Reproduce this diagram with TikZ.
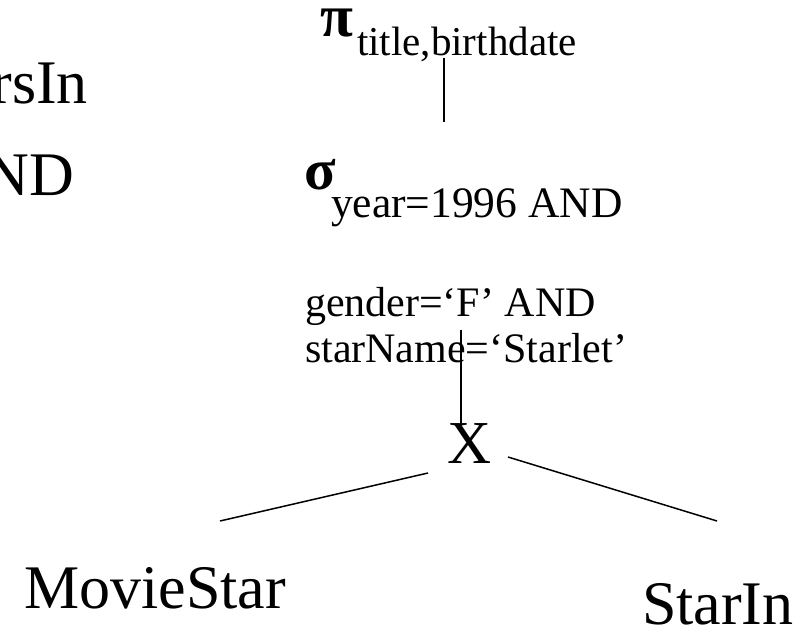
\documentclass[tikz,border=0pt]{standalone}
\usepackage{fontspec}
\setmainfont{Liberation Serif}
\newcommand\myfs[1]{\fontsize{#1}{#1}\selectfont}
\begin{document}
\begin{tikzpicture}[x=1pt,y=-1pt,
  every node/.style={inner sep=0pt, outer sep=0pt},
  lbl/.style={anchor=base west},
  lblr/.style={anchor=base east},
  greek/.style={anchor=base west, font=\bfseries},
  conn/.style={line width=1.5pt}]
\useasboundingbox (0,0) rectangle (800,626);
\clip (0,0) rectangle (800,626);
% cut-off text at left edge
\node[lblr] (lefta) at (88,103) {\myfs{62}rsIn};
\node[lblr] (leftb) at (74,195) {\myfs{62}ND};
% projection
\node[greek] (pi) at (320,37) {\myfs{60}π};
\node[lbl] (pisub) at (357,56) {\myfs{41}title,birthdate};
% selection
\node[greek] (sigma) at (304,189) {\myfs{58}σ};
\node[lbl] (sigsub) at (331,217) {\myfs{43.5}year=1996 AND};
\node[lbl] (cond1) at (305,316) {\myfs{42}gender=‘F’ AND};
\node[lbl] (cond2) at (305,362) {\myfs{42}starName=‘Starlet’};
% product
\node[anchor=base] (cross) at (470,463) {\myfs{61}X};
% leaves
\node[lblr] (movie) at (286,608) {\myfs{62}MovieStar};
\node[lbl] (starin) at (642,624) {\myfs{62}StarIn};
% connector ends
\coordinate (piB) at (444,58);
\coordinate (sigT) at (444,122);
\coordinate (sigB) at (461,330);
\coordinate (crossT) at (461,423);
\coordinate (crossL) at (428,473);
\coordinate (movieT) at (220,521);
\coordinate (crossR) at (508,457);
\coordinate (starinT) at (717,521);
\draw[conn] (piB) -- (sigT);
\draw[conn] (sigB) -- (crossT);
\draw[conn] (crossL) -- (movieT);
\draw[conn] (crossR) -- (starinT);
\end{tikzpicture}
\end{document}
